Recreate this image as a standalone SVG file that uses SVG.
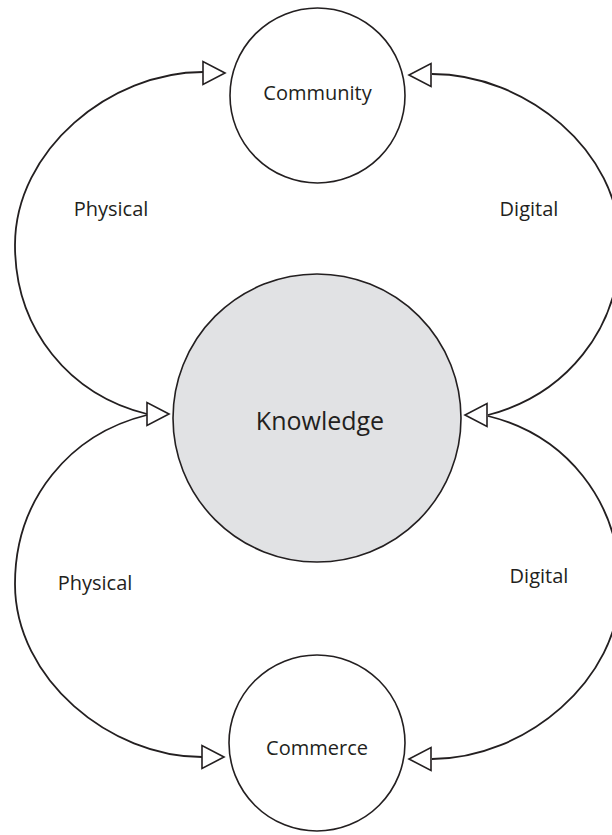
<svg xmlns="http://www.w3.org/2000/svg" xmlns:xlink="http://www.w3.org/1999/xlink" width="612" height="835" viewBox="0 0 612 835">
<style>
.node{fill:#fff;stroke:#231f20;stroke-width:1.6}
.hub{fill:#e1e2e4;stroke:#231f20;stroke-width:1.6}
.conn{fill:none;stroke:#231f20;stroke-width:1.8}
.ah{fill:#fff;stroke:#231f20;stroke-width:1.6;stroke-linejoin:miter}
text{font-family:"Open Sans","Liberation Sans",sans-serif;fill:#231f20;text-anchor:middle}
.lbl{font-size:20px}
.big{font-size:25px}
</style>
<defs>
<polygon id="arrow" points="0,0 -22,-11.5 -22,11.5"/>
</defs>
<rect width="612" height="835" fill="#fff"/>
<g id="connectors">
<path class="conn" d="M 203 72 C 110 72, 15 150, 15 245 C 15 330, 70 395, 147 414"/>
<path class="conn" d="M 147 415 C 70 434, 15 499, 15 584 C 15 679, 110 757, 202 757"/>
<path class="conn" d="M 432 74 C 525 74, 620 150, 620 245 C 620 330, 565 395, 488 415"/>
<path class="conn" d="M 488 416 C 565 435, 620 500, 620 587 C 620 680, 525 759, 432 759"/>
<use class="ah" xlink:href="#arrow" transform="translate(225,73)"/>
<use class="ah" xlink:href="#arrow" transform="translate(169,414)"/>
<use class="ah" xlink:href="#arrow" transform="translate(224,757)"/>
<use class="ah" xlink:href="#arrow" transform="translate(409,75) rotate(180)"/>
<use class="ah" xlink:href="#arrow" transform="translate(465,415) rotate(180)"/>
<use class="ah" xlink:href="#arrow" transform="translate(409,759) rotate(180)"/>
<text class="lbl" x="111" y="216">Physical</text>
<text class="lbl" x="529" y="216">Digital</text>
<text class="lbl" x="95" y="590">Physical</text>
<text class="lbl" x="539" y="583">Digital</text>
</g>
<g id="community">
<circle class="node" cx="317.5" cy="95.5" r="87.5"/>
<text class="lbl" x="317.5" y="100">Community</text>
</g>
<g id="knowledge">
<circle class="hub" cx="317" cy="418" r="144"/>
<text class="big" x="320" y="430">Knowledge</text>
</g>
<g id="commerce">
<circle class="node" cx="317" cy="743" r="88"/>
<text class="lbl" x="317" y="755">Commerce</text>
</g>
</svg>
